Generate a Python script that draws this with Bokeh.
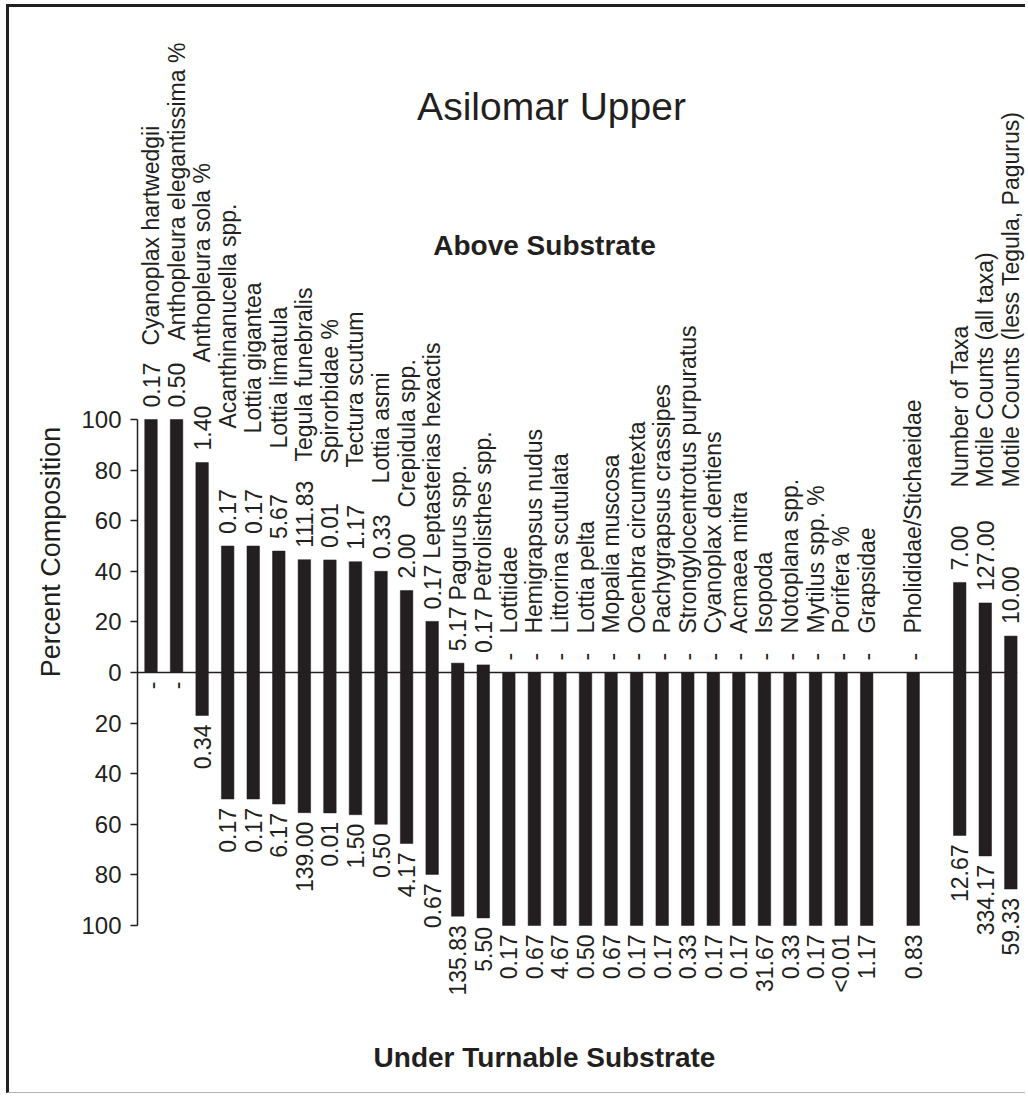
import math
from bokeh.plotting import figure
from bokeh.models import ColumnDataSource, Range1d, FixedTicker, Label
from bokeh.core.properties import value
from bokeh.embed import file_html
from bokeh.resources import INLINE

# ---------------- data ----------------
taxa = [
    "Cyanoplax hartwedgii", "Anthopleura elegantissima %", "Anthopleura sola %",
    "Acanthinanucella spp.", "Lottia gigantea", "Lottia limatula", "Tegula funebralis",
    "Spirorbidae %", "Tectura scutum", "Lottia asmi", "Crepidula spp.",
    "Leptasterias hexactis", "Pagurus spp.", "Petrolisthes spp.", "Lottiidae",
    "Hemigrapsus nudus", "Littorina scutulata", "Lottia pelta", "Mopalia muscosa",
    "Ocenbra circumtexta", "Pachygrapsus crassipes", "Strongylocentrotus purpuratus",
    "Cyanoplax dentiens", "Acmaea mitra", "Isopoda", "Notoplana spp.", "Mytilus spp. %",
    "Porifera %", "Grapsidae", "Pholididae/Stichaeidae", "Number of Taxa",
    "Motile Counts (all taxa)", "Motile Counts (less Tegula, Pagurus)",
]
group = [0] * 29 + [1] + [2, 2, 2]

above_pct = [100, 100, 83, 50, 50, 48, 44.6, 44.5, 43.8, 40, 32.4, 20.2, 3.7, 3.0,
             0, 0, 0, 0, 0, 0, 0, 0, 0, 0, 0, 0, 0, 0, 0,
             0,
             35.6, 27.5, 14.4]
below_pct = [100 - v for v in above_pct]

above_lbl = ["0.17", "0.50", "1.40", "0.17", "0.17", "5.67", "111.83", "0.01", "1.17",
             "0.33", "2.00", "0.17", "5.17", "0.17",
             "-", "-", "-", "-", "-", "-", "-", "-", "-", "-", "-", "-", "-", "-", "-",
             "-",
             "7.00", "127.00", "10.00"]
below_lbl = ["-", "-", "0.34", "0.17", "0.17", "6.17", "139.00", "0.01", "1.50", "0.50",
             "4.17", "0.67", "135.83", "5.50", "0.17", "0.67", "4.67", "0.50", "0.67",
             "0.17", "0.17", "0.33", "0.17", "0.17", "31.67", "0.33", "0.17", "<0.01",
             "1.17", "0.83", "12.67", "334.17", "59.33"]

y_ticks = [-100, -80, -60, -40, -20, 0, 20, 40, 60, 80, 100]

# ---------------- layout (not data) ----------------
# where each taxon name starts (in axis units, above the zero line)
name_start = [129.2, 131.2, 122.5, 96.4, 94.5, 88.5, 83.4, 82.6, 81.0, 74.7, 65.2,
              45.0, 28.5, 28.1] + [15.4] * 15 + [15.4] + [73.1] * 3
GROUP_GAP = 0.82
INK = "#231f20"
FONT = "Liberation Sans"

W, H = 1019, 1089
MARGIN_L, MARGIN_T, BORDER = 6, 4, 3
CANVAS_X0, CANVAS_Y0 = MARGIN_L + BORDER, MARGIN_T + BORDER   # page position of canvas
AXIS_X = 137                           # page x of the value axis
X0_PAGE, X_STEP = 150.5, 25.56         # first bar centre, bar pitch (px)
Y0_PAGE, Y_SCALE = 672, 2.53           # zero line, px per unit

xpos = [i + g * GROUP_GAP for i, g in enumerate(group)]

x_start = (AXIS_X - X0_PAGE) / X_STEP
x_end = (CANVAS_X0 + W - X0_PAGE) / X_STEP
y_top = (Y0_PAGE - CANVAS_Y0) / Y_SCALE
y_bot = (Y0_PAGE - (CANVAS_Y0 + H)) / Y_SCALE

src = ColumnDataSource(dict(
    x=xpos, top=above_pct, bot=[-v for v in below_pct],
    above_lbl=above_lbl, below_lbl=below_lbl, name=taxa, name_y=name_start,
))

p = figure(
    width=W, height=H, output_backend="svg", toolbar_location=None,
    x_range=Range1d(x_start, x_end), y_range=Range1d(y_bot, y_top),
    x_axis_location=None, y_axis_location="left",
    min_border_left=AXIS_X - CANVAS_X0, min_border_right=0,
    min_border_top=0, min_border_bottom=0,
)
p.styles = {"border-left": f"{BORDER}px solid {INK}",
            "border-top": f"{BORDER}px solid {INK}",
            "border-bottom": "1px solid #b4b4b4",
            "margin-left": f"{MARGIN_L}px", "margin-top": f"{MARGIN_T}px"}
p.outline_line_color = None
p.grid.grid_line_color = None
p.background_fill_color = "white"
p.border_fill_color = "white"

ax = p.yaxis[0]
ax.ticker = FixedTicker(ticks=y_ticks)
ax.major_label_overrides = {t: str(abs(t)) for t in y_ticks}
ax.bounds = (-100, 100)
ax.axis_line_color = INK
ax.axis_line_width = 1.5
ax.major_tick_line_color = INK
ax.major_tick_line_width = 1.5
ax.major_tick_out = 7
ax.major_tick_in = 0
ax.minor_tick_line_color = None
ax.major_label_standoff = 9
ax.major_label_text_font = FONT
ax.major_label_text_font_size = "24px"
ax.major_label_text_color = INK
ax.axis_label = "Percent Composition"
ax.axis_label_text_font = FONT
ax.axis_label_text_font_size = "27px"
ax.axis_label_text_font_style = "normal"
ax.axis_label_text_color = INK
ax.axis_label_standoff = 12

BAR_W = 0.49
p.vbar(x="x", width=BAR_W, bottom=0, top="top", source=src,
       fill_color=INK, line_color=INK, line_width=0.5)
p.vbar(x="x", width=BAR_W, bottom="bot", top=0, source=src,
       fill_color=INK, line_color=INK, line_width=0.5)

# zero line
p.segment(x0=[x_start], y0=[0], x1=[max(xpos) + BAR_W / 2], y1=[0],
          line_color=INK, line_width=1.5)

common = dict(source=src, angle=math.pi / 2, text_font=value(FONT),
              text_font_size="23px", text_color=INK, text_baseline="middle")
p.text(x="x", y="top", text="above_lbl", text_align="left", y_offset=-12, **common)
p.text(x="x", y="name_y", text="name", text_align="left", **common)
p.text(x="x", y="bot", text="below_lbl", text_align="right", y_offset=9, **common)

def px_to_x(px):
    return (px - X0_PAGE) / X_STEP

def py_to_y(py):
    return (Y0_PAGE - py) / Y_SCALE

p.add_layout(Label(x=px_to_x(551), y=py_to_y(106), text="Asilomar Upper",
                   text_align="center", text_baseline="alphabetic",
                   text_font=FONT, text_font_size="39px", text_color=INK))
p.add_layout(Label(x=px_to_x(544), y=py_to_y(245), text="Above Substrate",
                   text_align="center", text_baseline="alphabetic",
                   text_font=FONT, text_font_size="28px", text_font_style="bold",
                   text_color=INK))
p.add_layout(Label(x=px_to_x(544), y=py_to_y(1057), text="Under Turnable Substrate",
                   text_align="center", text_baseline="alphabetic",
                   text_font=FONT, text_font_size="28px", text_font_style="bold",
                   text_color=INK))

open("out.html", "w").write(file_html(p, INLINE))
